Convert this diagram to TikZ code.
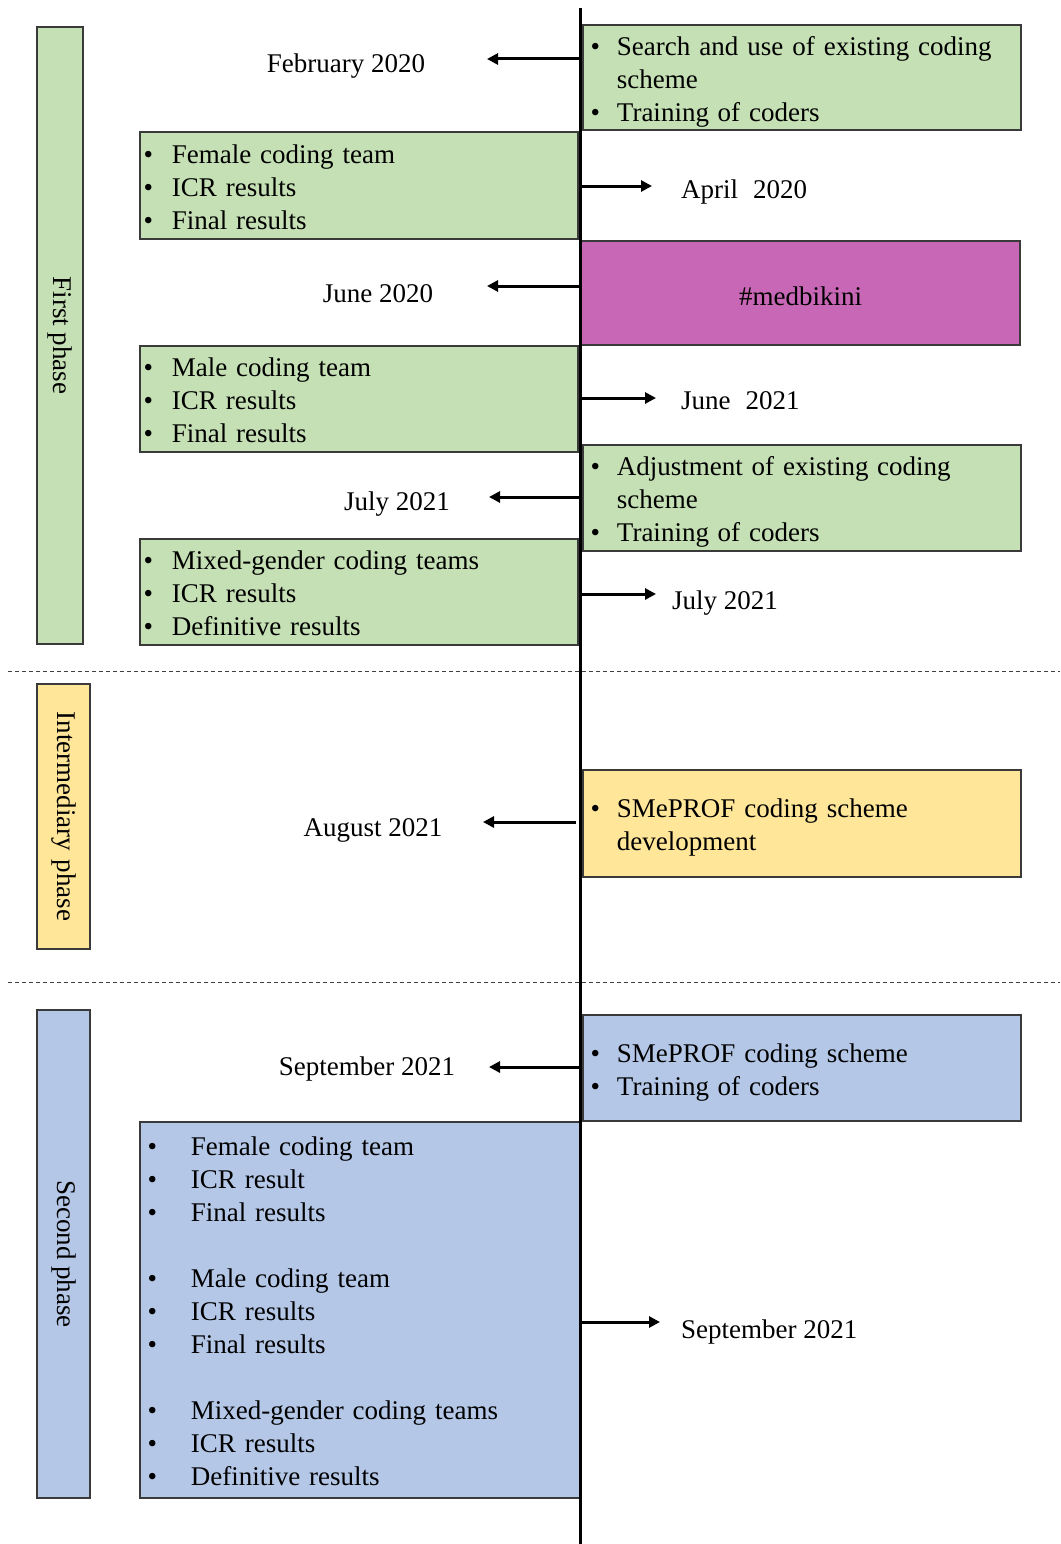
\documentclass[tikz,border=0pt]{standalone}
\usepackage{fontspec}
\setmainfont{Liberation Serif}
\usetikzlibrary{arrows.meta}
\definecolor{cgreen}{HTML}{C5E0B4}
\definecolor{cyellow}{HTML}{FFE699}
\definecolor{cblue}{HTML}{B4C7E7}
\definecolor{cmag}{HTML}{C867B5}
\definecolor{cedge}{HTML}{3A3A3A}
\newcommand{\blist}[2]{\raisebox{-4pt}[\height][\depth]{\begin{tabular}{@{}l@{\hspace{#1pt}}l@{}}#2\end{tabular}}}
\newcommand{\wsp}{\hspace{0.32em}}
\begin{document}
\begin{tikzpicture}[x=1pt,y=-1pt,
  every node/.style={font=\fontsize{27}{33}\selectfont},
  box/.style={draw=cedge,line width=1.3pt,rectangle,inner sep=0pt,outer sep=0pt,align=left},
  phasebox/.style={draw=cedge,line width=1.3pt,rectangle,inner sep=0pt,outer sep=0pt,rotate=-90},
  date/.style={inner sep=0pt},
  arr/.style={line width=3pt,-{Triangle[length=11pt,width=11pt]}},
  sep/.style={line width=1pt,draw=black!75,dash pattern=on 4pt off 3pt},
  tline/.style={line width=3pt}]
\useasboundingbox (0,0) rectangle (1060,1544);

% phase bars
\node[phasebox,fill=cgreen,minimum width=617,minimum height=46] (p1) at (60,335.5) {First phase};
\node[phasebox,fill=cyellow,minimum width=265,minimum height=53] (p2) at (63.5,816.5) {Intermediary\wsp phase};
\node[phasebox,fill=cblue,minimum width=488,minimum height=53] (p3) at (63.5,1254) {Second phase};

% dashed separators
\coordinate (d1a) at (8,671); \coordinate (d1b) at (1060,671);
\coordinate (d2a) at (8,982); \coordinate (d2b) at (1060,982);
\draw[sep] (d1a) -- (d1b);
\draw[sep] (d2a) -- (d2b);

% right boxes
\node[box,fill=cgreen,minimum width=438,minimum height=105,text width=423] (b1) at (802,77.5)
  {\blist{17}{\textbullet & Search and use of existing\wsp coding\\ & scheme\\ \textbullet & Training\wsp of coders}};
\node[box,fill=cmag,minimum width=439,minimum height=104,align=center] (med) at (800.5,293) {\raisebox{-3pt}[\height][\depth]{\#medbikini}};
\node[box,fill=cgreen,minimum width=438,minimum height=106,text width=423] (adj) at (802,498)
  {\blist{17}{\textbullet & Adjustment\wsp of existing\wsp coding\\ & scheme\\ \textbullet & Training\wsp of coders}};
\node[box,fill=cyellow,minimum width=438,minimum height=107,text width=423] (smy) at (802,823.5)
  {\blist{17}{\textbullet & SMePROF coding scheme\\ & development}};
\node[box,fill=cblue,minimum width=438,minimum height=106,text width=423] (smb) at (802,1068)
  {\blist{17}{\textbullet & SMePROF coding scheme\\ \textbullet & Training\wsp of coders}};

% left boxes
\node[box,fill=cgreen,minimum width=438,minimum height=107,text width=431] (fem) at (359,185.5)
  {\blist{19}{\textbullet & Female\wsp coding team\\ \textbullet & ICR results\\ \textbullet & Final\wsp results}};
\node[box,fill=cgreen,minimum width=438,minimum height=106,text width=431] (male) at (359,399)
  {\blist{19}{\textbullet & Male\wsp coding team\\ \textbullet & ICR results\\ \textbullet & Final\wsp results}};
\node[box,fill=cgreen,minimum width=438,minimum height=106,text width=431] (mix) at (359,592)
  {\blist{19}{\textbullet & Mixed-gender\wsp coding teams\\ \textbullet & ICR results\\ \textbullet & Definitive\wsp results}};
\node[box,fill=cblue,minimum width=440,minimum height=376,text width=425] (big) at (360,1310)
  {\blist{34}{\textbullet & Female\wsp coding team\\ \textbullet & ICR result\\ \textbullet & Final\wsp results\\[33pt]
  \textbullet & Male\wsp coding team\\ \textbullet & ICR results\\ \textbullet & Final\wsp results\\[33pt]
  \textbullet & Mixed-gender\wsp coding teams\\ \textbullet & ICR results\\ \textbullet & Definitive\wsp results}};

% timeline
\coordinate (ttop) at (580,8); \coordinate (tbot) at (580,1544);
\draw[tline] (ttop) -- (tbot);

% date labels
\node[date,anchor=mid] (feb) at (346,70) {February 2020};
\node[date,anchor=mid west] (apr) at (681,196) {April\hspace{0.55em}2020};
\node[date,anchor=mid] (jun20) at (378,300) {June 2020};
\node[date,anchor=mid west] (jun21) at (681,407) {June\hspace{0.55em}2021};
\node[date,anchor=mid east] (jul21a) at (450,508) {July 2021};
\node[date,anchor=mid west] (jul21b) at (672,607) {July 2021};
\node[date,anchor=mid] (aug) at (373,834) {August 2021};
\node[date,anchor=mid] (sep21a) at (367,1073) {September 2021};
\node[date,anchor=mid west] (sep21b) at (681,1336) {September 2021};

% arrows
\coordinate (a1s) at (580,59);   \coordinate (a1e) at (487,59);
\coordinate (a2s) at (580,186);  \coordinate (a2e) at (652,186);
\coordinate (a3s) at (580,286);  \coordinate (a3e) at (487,286);
\coordinate (a4s) at (580,398);  \coordinate (a4e) at (656,398);
\coordinate (a5s) at (580,497);  \coordinate (a5e) at (489,497);
\coordinate (a6s) at (580,594);  \coordinate (a6e) at (656,594);
\coordinate (a7s) at (576,822);  \coordinate (a7e) at (483,822);
\coordinate (a8s) at (580,1067); \coordinate (a8e) at (489,1067);
\coordinate (a9s) at (580,1322); \coordinate (a9e) at (660,1322);
\foreach \i in {1,...,9} {\draw[arr] (a\i s) -- (a\i e);}
\end{tikzpicture}
\end{document}
